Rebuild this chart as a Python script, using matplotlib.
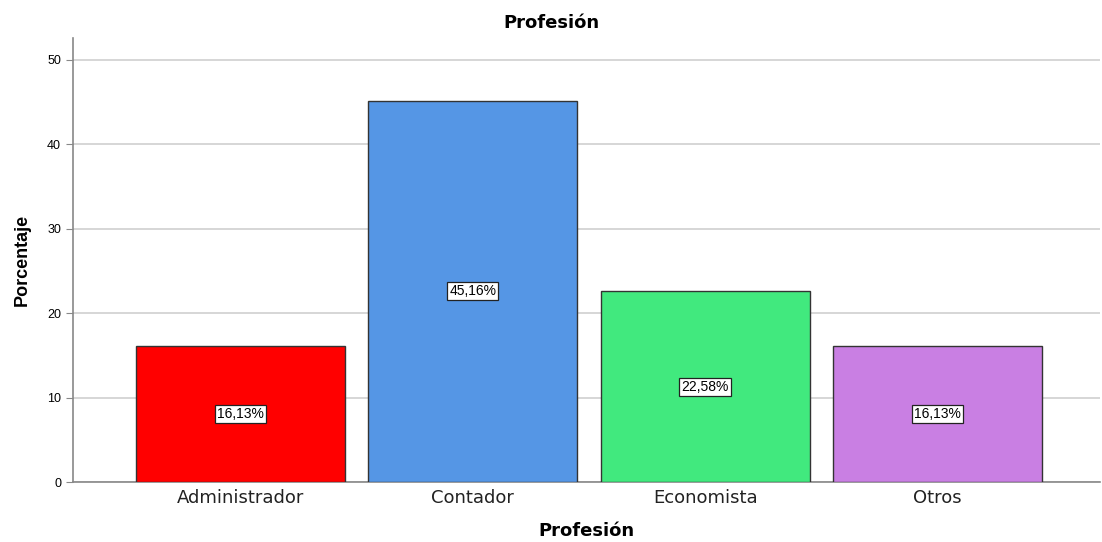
import matplotlib
matplotlib.use('Agg')
import matplotlib.pyplot as plt

plt.rcParams['font.family'] = ['Liberation Sans', 'DejaVu Sans']

categories = ['Administrador', 'Contador', 'Economista', 'Otros']
porcentajes = [16.13, 45.16, 22.58, 16.13]
etiquetas = ['16,13%', '45,16%', '22,58%', '16,13%']
colores = ['#FF0000', '#5596E5', '#41E97E', '#C97FE3']

fig = plt.figure(figsize=(11.02, 5.42), dpi=100)
ax = fig.add_axes([0.0662, 0.1107, 0.9320, 0.8192])

x = range(len(categories))
ax.bar(x, porcentajes, width=0.9, color=colores, edgecolor='#333333', linewidth=1.0, zorder=3)

# value labels centred in each bar
for i, (v, lab) in enumerate(zip(porcentajes, etiquetas)):
    ax.text(i, v / 2, lab, ha='center', va='center', fontsize=10, zorder=4,
            bbox=dict(boxstyle='square,pad=0.15', facecolor='white', edgecolor='#222222', linewidth=0.9))

ax.set_xlim(-0.722, 3.70)
ax.set_ylim(0, 52.6)
ax.set_yticks([0, 10, 20, 30, 40, 50])
ax.set_xticks(list(x))
ax.set_xticklabels(categories, fontsize=13, color='#222222', family='DejaVu Sans')
ax.tick_params(axis='y', labelsize=9, length=5, color='#888888')
ax.tick_params(axis='x', length=0, pad=5)
ax.yaxis.grid(True, color='#d0d0d0', linewidth=1.2, zorder=0)

for s in ['top', 'right']:
    ax.spines[s].set_visible(False)
ax.spines['left'].set_color('#888888')
ax.spines['bottom'].set_color('#888888')
ax.spines['left'].set_linewidth(1.2)
ax.spines['bottom'].set_linewidth(1.2)

# title is centred on the whole figure in the original
fig.text(0.5, 1 - 23 / 542, 'Profesión', ha='center', va='center', fontsize=13,
         fontweight='bold', family='DejaVu Sans')
ax.set_xlabel('Profesión', fontsize=13, fontweight='bold', labelpad=11, family='DejaVu Sans')
ax.set_ylabel('Porcentaje', fontsize=13, fontweight='bold', labelpad=12)

plt.savefig('out.png', dpi=100)
plt.close()
